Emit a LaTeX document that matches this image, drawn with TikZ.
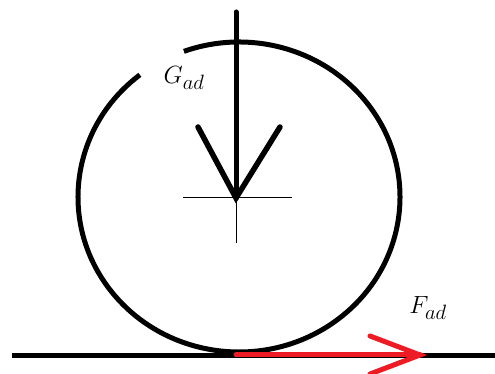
\documentclass[tikz,border=0pt]{standalone}
\definecolor{paintred}{RGB}{237,28,36}
\tikzset{
  thickline/.style={line width=5pt, line cap=round, line join=miter},
  thinline/.style={line width=1pt},
  lbl/.style={inner sep=0pt, font=\fontsize{30}{34}\selectfont}
}
\begin{document}
\begin{tikzpicture}[x=1pt,y=1pt]
\useasboundingbox (0,0) rectangle (495,374);
% wheel centre and points
\coordinate (c) at (239,177);
\coordinate (tip) at (236,176);
\coordinate (top) at (236,362);
\coordinate (armL) at (198,247);
\coordinate (armR) at (280,247);
\coordinate (hL) at (183,176);
\coordinate (hR) at (292,176);
\coordinate (vB) at (236,131);
\coordinate (g1) at (12,18);
\coordinate (g2) at (495,18);
\coordinate (f1) at (236,19);
\coordinate (f2) at (420,19);
\coordinate (fL) at (370,38);
\coordinate (fR) at (370,0);
% wheel (open arc)
\draw[thickline, line cap=butt] ([shift={(128:161 and 155)}]c) arc[start angle=128, end angle=470, x radius=161, y radius=155];
% ground
\draw[thickline, line cap=butt] (g1) -- (g2);
% crosshair
\draw[thinline] (hL) -- (hR);
\draw[thinline] (tip) -- (vB);
% gravity arrow
\draw[thickline] (top) -- (tip);
\draw[thickline, line width=5.5pt] (armL) -- (tip) -- (armR);
% adhesion force arrow
\draw[thickline, paintred] (f1) -- (f2);
\draw[thickline, paintred] (fL) -- (f2) -- (fR);
% labels
\node[lbl] (G) at (184,296) {$G_{ad}$};
\node[lbl] (F) at (428,66) {$F_{ad}$};
\end{tikzpicture}
\end{document}
